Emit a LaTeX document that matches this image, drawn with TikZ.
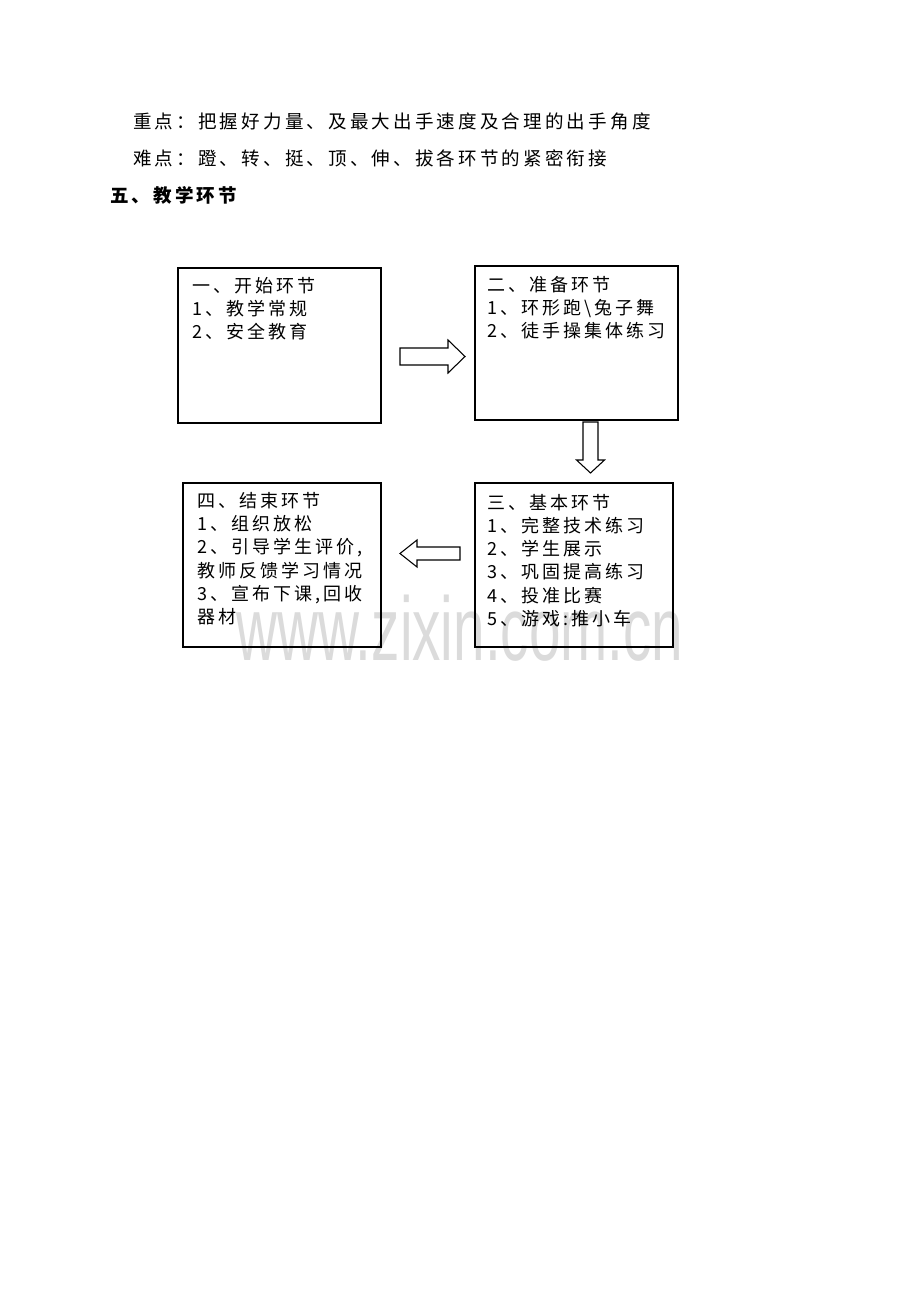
\documentclass[tikz,border=0pt]{standalone}
\usepackage{fontspec}
\usepackage{graphicx}
\usetikzlibrary{fit}
\newfontfamily\cjk{Noto Sans CJK SC}[LetterSpace=17]
\newfontfamily\wmfont{Liberation Sans}
\begin{document}
\begin{tikzpicture}[x=0.75pt,y=-0.75pt,
  box/.style={draw=black,line width=1pt,inner sep=0pt},
  boxtxt/.style={anchor=north west,inner sep=0pt,align=left,font=\cjk\fontsize{13.5}{17.4}\selectfont},
  headtxt/.style={anchor=base west,inner sep=0pt,font=\cjk\fontsize{13.9}{16}\selectfont},
  blk/.style={draw=black,line width=0.8pt,fill=white,line join=miter}]
\useasboundingbox[fill=white] (0,0) rectangle (920,1302);
% watermark
\node[anchor=base west,inner sep=0pt,text=black!14] (wm) at (236,660)
  {\scalebox{0.627}[1]{\wmfont\fontsize{67.8}{70}\selectfont www.zixin.com.cn}};
% header text
\node[headtxt] (h1) at (133,129) {重点：把握好力量、及最大出手速度及合理的出手角度};
\node[headtxt] (h2) at (133,166) {难点：蹬、转、挺、顶、伸、拔各环节的紧密衔接};
\node[headtxt,font=\cjk\bfseries\fontsize{13.9}{16}\selectfont] (h3) at (110,202) {五、教学环节};
% box corners
\coordinate (b1nw) at (178,268); \coordinate (b1se) at (381,423);
\coordinate (b2nw) at (475,266); \coordinate (b2se) at (678,420);
\coordinate (b3nw) at (475,483); \coordinate (b3se) at (673,647);
\coordinate (b4nw) at (183,483); \coordinate (b4se) at (381,647);
\node[box,fit=(b1nw)(b1se)] (b1) {};
\node[box,fit=(b2nw)(b2se)] (b2) {};
\node[box,fit=(b3nw)(b3se)] (b3) {};
\node[box,fit=(b4nw)(b4se)] (b4) {};
% box texts
\node[boxtxt] (t1) at (192,277) {一、开始环节\\1、教学常规\\2、安全教育};
\node[boxtxt] (t2) at (487,276) {二、准备环节\\1、环形跑\textbackslash 兔子舞\\2、徒手操集体练习};
\node[boxtxt] (t3) at (487,494) {三、基本环节\\1、完整技术练习\\2、学生展示\\3、巩固提高练习\\4、投准比赛\\5、游戏:推小车};
\node[boxtxt] (t4) at (197,492) {四、结束环节\\1、组织放松\\2、引导学生评价,\\教师反馈学习情况\\3、宣布下课,回收\\器材};
% block arrows
\draw[blk] (400,348) -- (448,348) -- (448,340) -- (465,356.5) -- (448,373) -- (448,365) -- (400,365) -- cycle;
\draw[blk] (583,422) -- (598,422) -- (598,460) -- (604.5,460) -- (590.5,473) -- (576.5,460) -- (583,460) -- cycle;
\draw[blk] (460,547) -- (417,547) -- (417,540) -- (400,553.5) -- (417,567) -- (417,560) -- (460,560) -- cycle;
\end{tikzpicture}
\end{document}
